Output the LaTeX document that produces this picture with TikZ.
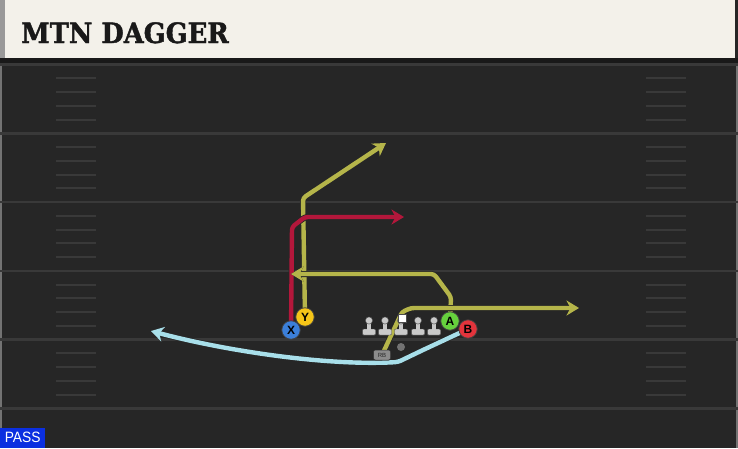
\documentclass[tikz,border=0pt]{standalone}
\usepackage{fontspec}
\setmainfont{DejaVu Serif}
\setsansfont{Liberation Sans}
\newfontfamily\titlefont{DejaVu Serif}[BoldFeatures={FakeBold=1.6}]
\usetikzlibrary{arrows.meta}

\definecolor{turf}{HTML}{262626}
\definecolor{yardline}{HTML}{393939}
\definecolor{header}{HTML}{F3F1EA}
\definecolor{olive}{HTML}{B5B54A}
\definecolor{crimson}{HTML}{B3173B}
\definecolor{sky}{HTML}{A8DFEA}
\definecolor{xblue}{HTML}{3B7FD9}
\definecolor{ygold}{HTML}{F5C518}
\definecolor{agreen}{HTML}{66D13D}
\definecolor{bred}{HTML}{E3343C}
\definecolor{passblue}{HTML}{0B2FE0}
\definecolor{linegray}{HTML}{C9C9C9}

\pgfdeclarelayer{field}
\pgfdeclarelayer{routes}
\pgfsetlayers{field,routes,main}

\tikzstyle{player} = [circle, draw=black!75, line width=0.8pt, minimum size=18.5pt,
  inner sep=0pt, font=\sffamily\bfseries\fontsize{12}{12}\selectfont]
\tikzstyle{route} = [line width=4.4pt, rounded corners=3pt, line join=round,
  preaction={draw=black!85, line width=6pt}]
\tikzstyle{tip} = [-{Stealth[length=12.5pt,width=15pt,inset=4pt]}]
\tikzstyle{hash} = [draw=yardline, line width=2pt]

\begin{document}
\begin{tikzpicture}[x=1pt, y=-1pt]
        \useasboundingbox (0,0) rectangle (738,448);
        % field
        \begin{pgfonlayer}{field}
        \fill[turf] (0,0) rectangle (738,448);
        \fill[black!90] (0,58) rectangle (738,63);
        \draw[black!55, line width=1.5pt] (1,63) -- (1,448);
        \draw[black!55, line width=1.5pt] (737,63) -- (737,448);
        \foreach \i in {0,...,5}
          \draw[yardline, line width=2.5pt] (0,64.5+68.8*\i) -- (738,64.5+68.8*\i);
        \foreach \i in {0,...,4}
          \foreach \k in {1,...,4} {
            \draw[hash] (56,64.5+68.8*\i+13.76*\k) -- (96,64.5+68.8*\i+13.76*\k);
            \draw[hash] (646,64.5+68.8*\i+13.76*\k) -- (686,64.5+68.8*\i+13.76*\k);
          }
        \end{pgfonlayer}

        % header
        \fill[header] (0,0) rectangle (735,58);
        \fill[black!40] (0,0) rectangle (5,58);
        \node[anchor=base west, inner sep=0pt, text=black!90,
          font=\titlefont\bfseries\fontsize{28}{28}\selectfont] (title) at (21,43)
          {\scalebox{0.92}[1]{MTN DAGGER}};

        % line
        \foreach \x in {369,385,401,418,434} {
          \fill[linegray, draw=black!70, line width=0.4pt, rounded corners=1pt]
            (\x-6.5,329) rectangle (\x+6.5,335);
          \fill[linegray] (\x-2,321) rectangle (\x+2,330);
          \fill[linegray, draw=black!70, line width=0.4pt] (\x,320.5) circle (3.6pt);
        }
        \node[fill=white, draw=black!70, line width=0.4pt, minimum size=8pt,
          inner sep=0pt] (C) at (402,318) {};
        \node[circle, fill=black!55, minimum size=8pt, inner sep=0pt] (QB) at (401,347) {};
        \node[fill=black!45, draw=black!80, line width=0.5pt, rounded corners=2pt,
          minimum width=17pt, minimum height=10pt, inner sep=0pt, text=black!85,
          font=\sffamily\fontsize{6}{6}\selectfont] (rb) at (382,355) {RB};

        % players
        \node [player, fill=ygold]  (Y) at (305,317) {Y};
        \node [player, fill=xblue]  (X) at (291,330) {X};
        \node [player, fill=agreen] (A) at (450,321) {A};
        \node [player, fill=bred]   (B) at (468,329) {B};
        \coordinate (yend)  at (386,143);
        \coordinate (xend)  at (404,217);
        \coordinate (aend)  at (291,274);
        \coordinate (rbend) at (579,308);
        \coordinate (bend)  at (151,331);

        % routes
        \begin{pgfonlayer}{routes}
        \draw[route, olive, tip] (Y.center) -- (303,198) -- (yend);
        \draw[route, crimson, tip] (X.center) -- (292,227) -- (305,217) -- (xend);
        \draw[route, olive, tip] (A.center) -- (451,297) -- (434,274) -- (aend);
        \draw[route, olive, tip] (rb.center) -- (402,312) -- (411,308) -- (rbend);
        \draw[route, sky, tip] (B.center) -- (423,350) -- (398,362)
          .. controls (330,366) and (230,352) .. (bend);
        \end{pgfonlayer}

        % play type
        \node[anchor=south west, fill=passblue, text=white, minimum width=45pt,
          minimum height=20pt, inner sep=0pt,
          font=\sffamily\fontsize{15}{15}\selectfont] (pass) at (0,448)
          {\scalebox{0.92}[1]{PASS}};
      \end{tikzpicture}
\end{document}
